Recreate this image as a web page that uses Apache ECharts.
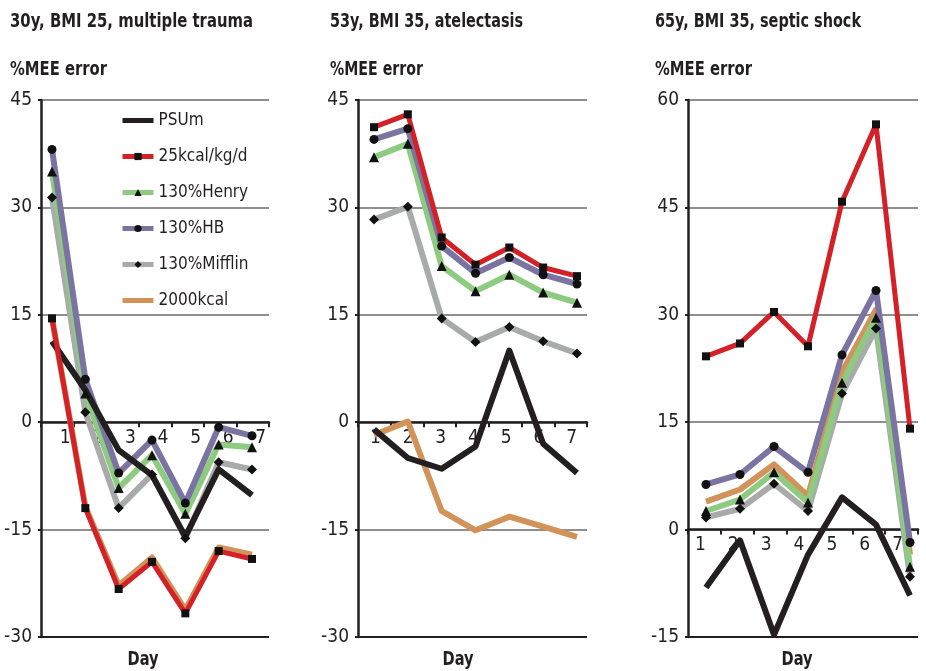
<!DOCTYPE html>
<html><head><meta charset="utf-8">
<script src="https://cdn.jsdelivr.net/npm/echarts@6/dist/echarts.min.js"></script>
<style>html,body{margin:0;padding:0;background:#fff}#c{width:926px;height:671px}</style>
</head><body><div id="c"></div>
<script>
// ---------- data ----------
const days = ['1','2','3','4','5','6','7'];
const seriesNames = ['PSUm','25kcal/kg/d','130%Henry','130%HB','130%Mifflin','2000kcal'];
const panelTitles = ['30y, BMI 25, multiple trauma','53y, BMI 35, atelectasis','65y, BMI 35, septic shock'];
const yAxisTitle = '%MEE error';
const xAxisTitle = 'Day';
const yMins = [-30, -30, -15];
const yMaxs = [45, 45, 60];
const yStep = 15;

// panel 1: multiple trauma
const traumaPSUm    = [11.3, 4.5, -3.9, -7.4, -16.0, -6.6, -10.2];
const trauma25kcal  = [14.5, -12.0, -23.3, -19.5, -26.7, -18.0, -19.1];
const traumaHenry   = [35.0, 4.0, -9.2, -4.6, -12.8, -3.1, -3.5];
const traumaHB      = [38.1, 6.0, -7.1, -2.5, -11.3, -0.7, -1.9];
const traumaMifflin = [31.4, 1.4, -12.0, -7.3, -16.2, -5.6, -6.6];
const trauma2000    = [14.5, -11.8, -22.8, -18.9, -26.2, -17.5, -18.5];
// panel 2: atelectasis
const atelPSUm    = [-1.0, -5.0, -6.5, -3.4, 10.0, -3.0, -7.1];
const atel25kcal  = [41.2, 43.0, 25.8, 22.0, 24.4, 21.6, 20.4];
const atelHenry   = [37.0, 38.9, 21.8, 18.3, 20.6, 18.1, 16.7];
const atelHB      = [39.5, 41.0, 24.6, 20.8, 23.0, 20.6, 19.3];
const atelMifflin = [28.3, 30.1, 14.5, 11.2, 13.3, 11.3, 9.6];
const atel2000    = [-1.8, 0.1, -12.4, -15.1, -13.2, -14.6, -16.0];
// panel 3: septic shock
const septicPSUm    = [-8.1, -1.5, -14.7, -3.5, 4.5, 0.7, -9.2];
const septic25kcal  = [24.2, 26.0, 30.4, 25.6, 45.8, 56.6, 14.1];
const septicHenry   = [2.6, 4.2, 8.0, 3.8, 20.5, 29.6, -5.2];
const septicHB      = [6.3, 7.7, 11.6, 8.0, 24.4, 33.4, -1.8];
const septicMifflin = [1.7, 2.9, 6.4, 2.6, 19.0, 28.1, -6.6];
const septic2000    = [3.9, 5.6, 9.1, 4.7, 22.0, 30.7, -3.5];

const panelData = [
  [traumaPSUm, trauma25kcal, traumaHenry, traumaHB, traumaMifflin, trauma2000],
  [atelPSUm, atel25kcal, atelHenry, atelHB, atelMifflin, atel2000],
  [septicPSUm, septic25kcal, septicHenry, septicHB, septicMifflin, septic2000]
];

// ---------- styles / layout ----------
const FONT = "'Liberation Sans Narrow','DejaVu Sans Condensed','Arial Narrow',sans-serif";
const INK = '#231f20';
const GRID_GRAY = '#8f8f8f';
const styles = [
  {color:'#231f20', width:6, symbol:'none', size:0},
  {color:'#d42027', width:5, symbol:'rect', size:8},
  {color:'#8dcb80', width:6, symbol:'triangle', size:10},
  {color:'#7b73a1', width:6, symbol:'circle', size:9},
  {color:'#a9abab', width:6, symbol:'diamond', size:10},
  {color:'#d1935a', width:6, symbol:'none', size:0}
];
const drawOrder = [5, 4, 2, 3, 0, 1];
const grids = [
  {left:41, top:100, width:228, height:537},
  {left:358, top:100, width:229, height:537},
  {left:688, top:100, width:230, height:537}
];
// horizontal extent of the hidden day scale that places the points (as in the original plot)
const plotXRange = [[0.67, 7.51], [0.527, 7.296], [0.471, 7.235]];
const labelPad = [[0,0,0,16], [0,0,0,2], [0,8,0,0]];

const ctx = document.createElement('canvas').getContext('2d');
function fit(text, font, target){ ctx.font = font; return target / ctx.measureText(text).width; }
const titleFont = 'bold 19px ' + FONT;

const titleX = [10, 330, 655];
const titleW = [243, 193, 206];
const meeW = [97, 93, 97];
const dayX = [143, 458, 797];

const graphics = [];
for (let p = 0; p < 3; p++) {
  graphics.push({type:'text', x:titleX[p], y:22, scaleX: fit(panelTitles[p], titleFont, titleW[p]),
    style:{text:panelTitles[p], font:titleFont, fill:INK, textVerticalAlign:'middle', verticalAlign:'middle'}});
  graphics.push({type:'text', x:titleX[p], y:70, scaleX: fit(yAxisTitle, titleFont, meeW[p]),
    style:{text:yAxisTitle, font:titleFont, fill:INK, textVerticalAlign:'middle', verticalAlign:'middle'}});
  graphics.push({type:'text', x:dayX[p], y:660, scaleX: fit(xAxisTitle, titleFont, 31),
    style:{text:xAxisTitle, font:titleFont, fill:INK, textAlign:'center', align:'center', textVerticalAlign:'middle', verticalAlign:'middle'}});
}

const xAxes = [], yAxes = [], series = [];
for (let p = 0; p < 3; p++) {
  const zeroOffset = -grids[p].height * (0 - yMins[p]) / (yMaxs[p] - yMins[p]);
  xAxes.push({
    type:'category', gridIndex:p, data:days, boundaryGap:true, position:'bottom',
    offset: zeroOffset,
    axisLine:{onZero:false, lineStyle:{color:INK, width:2.5}},
    axisTick:{show:true, length:5, lineStyle:{color:INK, width:2}},
    axisLabel:{fontFamily:FONT, fontSize:19, color:INK, margin:6, padding:labelPad[p],
      interval:0, showMinLabel:true, showMaxLabel:true, hideOverlap:false},
    splitLine:{show:false}
  });
  xAxes.push({
    type:'value', gridIndex:p, show:false, min:plotXRange[p][0], max:plotXRange[p][1],
    splitLine:{show:false}
  });
  const nTicks = (yMaxs[p] - yMins[p]) / yStep + 1;
  const splitColors = [];
  for (let i = 0; i < nTicks; i++) splitColors.push(i === 0 ? INK : GRID_GRAY);
  yAxes.push({
    type:'value', gridIndex:p, min:yMins[p], max:yMaxs[p], interval:yStep,
    axisLine:{show:true, lineStyle:{color:INK, width:2.5}},
    axisTick:{show:true, length:3, lineStyle:{color:INK, width:2}},
    axisLabel:{fontFamily:FONT, fontSize:19, color:INK, margin:9},
    splitLine:{show:true, lineStyle:{color:splitColors, width:2}}
  });
  for (const s of drawOrder) {
    const st = styles[s];
    series.push({
      type:'line', name:seriesNames[s], xAxisIndex:2 * p + 1, yAxisIndex:p,
      data:panelData[p][s].map((v, i) => [Number(days[i]), v]),
      symbol:st.symbol, symbolSize:st.size, showSymbol: st.symbol !== 'none',
      lineStyle:{color:st.color, width:st.width, cap:'butt', join:'round'},
      itemStyle:{color:'#111'},
      clip:false,
      emphasis:{disabled:true}, animation:false
    });
  }
}

const legendData = seriesNames.map((n, i) => styles[i].symbol === 'none'
  ? {name:n, itemStyle:{opacity:0}} : {name:n});

const chart = echarts.init(document.getElementById('c'), null, {renderer:'canvas'});
chart.setOption({
  animation:false,
  backgroundColor:'#fff',
  grid: grids,
  xAxis: xAxes,
  yAxis: yAxes,
  series: series,
  graphic: graphics,
  legend: {
    orient:'vertical', left:115, top:106, data:legendData,
    itemWidth:31, itemHeight:9, itemGap:17,
    lineStyle:{width:5},
    textStyle:{fontFamily:FONT, fontSize:17, color:INK, lineHeight:19},
    selectedMode:false
  }
});
</script></body></html>
